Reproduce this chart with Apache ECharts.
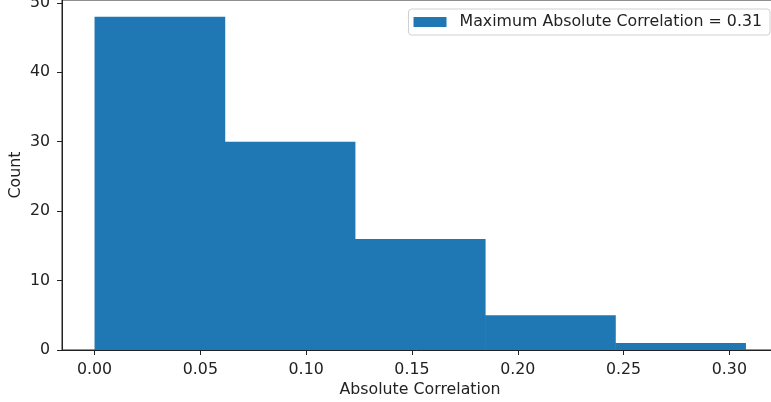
<!DOCTYPE html>
<html><head><meta charset="utf-8">
<script src="https://cdn.jsdelivr.net/npm/echarts@6/dist/echarts.min.js"></script>
<style>html,body{margin:0;padding:0;background:#fff}#c{width:771px;height:402px}</style>
</head><body><div id="c"></div>
<script>
var binEdges = [0, 0.06152, 0.12304, 0.18456, 0.24608, 0.3076];
var counts = [48, 30, 16, 5, 1];
var xTicks = [0, 0.05, 0.10, 0.15, 0.20, 0.25, 0.30];
var yTicks = [0, 10, 20, 30, 40, 50];
var seriesName = 'Maximum Absolute Correlation = 0.31';

var data = counts.map(function (c, i) { return [binEdges[i], binEdges[i + 1], c]; });
var span = binEdges[binEdges.length - 1] - binEdges[0];
var font = 'DejaVu Sans';
var fs = 15.8;
var chart = echarts.init(document.getElementById('c'), null, {renderer: 'canvas'});
chart.setOption({
  animation: false,
  grid: {left: 62, top: 0, right: -7, bottom: 52, outerBoundsMode: 'none', containLabel: false,
    show: true, borderColor: '#222', borderWidth: 1, backgroundColor: 'transparent'},
  legend: {
    right: 1, top: 9, padding: [5, 8, 5, 5], itemWidth: 33, itemHeight: 10, itemGap: 10,
    borderColor: '#d0d0d0', borderWidth: 1, borderRadius: 3,
    textStyle: {fontFamily: font, fontSize: fs, color: '#222', padding: [0, 0, 0, 8]},
    data: [{name: seriesName, icon: 'rect'}]
  },
  xAxis: {
    type: 'value', min: binEdges[0] - 0.05 * span, max: binEdges[binEdges.length - 1] + 0.05 * span,
    splitLine: {show: false},
    axisLine: {onZero: false, lineStyle: {color: '#222'}},
    axisTick: {show: true, inside: false, length: 5, customValues: xTicks, lineStyle: {color: '#222', width: 1}},
    axisLabel: {customValues: xTicks, fontFamily: font, fontSize: fs, color: '#222', margin: 12,
      formatter: function (v) { return v.toFixed(2); }},
    name: 'Absolute Correlation', nameLocation: 'middle', nameGap: 32, nameMoveOverlap: false,
    nameTextStyle: {fontFamily: font, fontSize: fs, color: '#222'}
  },
  yAxis: {
    type: 'value', min: 0, max: counts[0] * 1.05,
    splitLine: {show: false},
    axisLine: {show: true, onZero: false, lineStyle: {color: '#222'}},
    axisTick: {show: true, inside: false, length: 5, customValues: yTicks, lineStyle: {color: '#222', width: 1}},
    axisLabel: {customValues: yTicks, fontFamily: font, fontSize: fs, color: '#222', margin: 12},
    name: 'Count', nameLocation: 'middle', nameGap: 38, nameMoveOverlap: false,
    nameTextStyle: {fontFamily: font, fontSize: fs, color: '#222'}
  },
  series: [{
    name: seriesName, type: 'custom', itemStyle: {color: '#1f77b4'},
    encode: {x: [0, 1], y: 2},
    data: data,
    renderItem: function (params, api) {
      var p0 = api.coord([api.value(0), api.value(2)]);
      var p1 = api.coord([api.value(1), 0]);
      return {type: 'rect', shape: {x: p0[0], y: p0[1], width: p1[0] - p0[0] + 0.5, height: p1[1] - p0[1]},
        style: {fill: '#1f77b4'}};
    }
  }]
});
</script></body></html>
